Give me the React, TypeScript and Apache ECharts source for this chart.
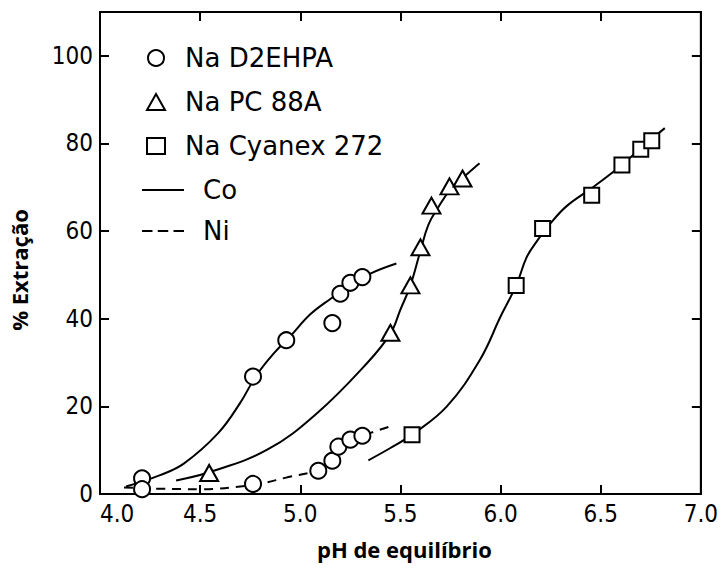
import React, { useEffect, useRef } from "react";
import * as echarts from "echarts";

// Points (pH, % extraction)
const d2ehpaCo = [[4.21, 3.6], [4.764, 26.8], [4.93, 35.1], [5.16, 39.0], [5.2, 45.7], [5.25, 48.2], [5.31, 49.5]];
const d2ehpaNi = [[4.21, 1.1], [4.764, 2.3], [5.09, 5.3], [5.16, 7.6], [5.19, 10.8], [5.25, 12.4], [5.31, 13.3]];
const pc88aCo = [[4.545, 4.8], [5.45, 36.8], [5.55, 47.6], [5.6, 56.3], [5.655, 65.8], [5.745, 70.2], [5.81, 72.0]];
const cyanexCo = [[5.558, 13.5], [6.078, 47.6], [6.21, 60.6], [6.455, 68.2], [6.606, 75.1], [6.7, 78.7], [6.755, 80.6]];

// Hand-drawn fit curves
const curveD2ehpaCo = [[4.13, 1.7], [4.3, 4.3], [4.42, 7.0], [4.59, 13.9], [4.7, 20.8], [4.78, 27.0], [4.87, 32.2], [4.95, 36.0], [5.05, 41.0], [5.15, 44.5], [5.25, 47.6], [5.35, 50.3], [5.48, 52.6]];
const curveD2ehpaNi = [[4.12, 1.5], [4.3, 1.2], [4.5, 1.1], [4.764, 2.1], [4.935, 3.8], [5.09, 5.5], [5.16, 7.8], [5.2, 10.5], [5.25, 12.3], [5.31, 13.3], [5.44, 15.3]];
const curvePc88aCo = [[4.38, 3.1], [4.54, 4.9], [4.835, 10.1], [5.085, 18.5], [5.334, 29.9], [5.45, 36.6], [5.5, 42.1], [5.55, 47.6], [5.6, 55.5], [5.64, 61.5], [5.69, 65.5], [5.75, 69.5], [5.82, 72.5], [5.895, 75.5]];
const curveCyanexCo = [[5.34, 7.7], [5.45, 10.5], [5.56, 13.6], [5.732, 20.0], [5.898, 30.7], [6.0, 40.5], [6.078, 47.6], [6.13, 54.0], [6.18, 57.6], [6.25, 61.8], [6.33, 65.7], [6.455, 69.8], [6.606, 75.1], [6.7, 78.9], [6.82, 83.5]];

const xTicks = { min: 4.0, max: 7.0, interval: 0.5 };
const yTicks = { min: 0, max: 110, interval: 20 };

const legendMarkers = ["Na D2EHPA", "Na PC 88A", "Na Cyanex 272"];
const legendLines = ["Co", "Ni"];

const tickFont = "'DejaVu Sans Condensed', 'Liberation Sans Narrow', 'DejaVu Sans', sans-serif";
const legendFont = "'DejaVu Sans', sans-serif";
const titleFont = "'Open Sans', 'DejaVu Sans', sans-serif";

const solidIcon = "path://M0,0h40v2h-40z";
const dashIcon = "path://M0,0h10v2h-10z M15,0h10v2h-10z M30,0h10v2h-10z";

export default function App() {
  const ref = useRef<HTMLDivElement>(null);
  useEffect(() => {
    if (!ref.current) return;
    const chart = echarts.init(ref.current, undefined, { renderer: "svg" });
    const axisLine = { show: true, onZero: false, lineStyle: { color: "#000", width: 2 } };
    const axisTick = { show: true, inside: true, length: 9, lineStyle: { color: "#000", width: 2 } };
    const lineSeries = (data: number[][], dashed: boolean) => ({
      type: "line",
      data,
      smooth: 0.4,
      symbol: "none",
      itemStyle: { color: "#000" },
      lineStyle: { color: "#000", width: 2, type: dashed ? [9, 7] : "solid" },
      z: 2,
      silent: true,
    });
    const markerStyle = { color: "#fff", borderColor: "#000", borderWidth: 2, opacity: 1 };
    const option = {
      animation: false,
      backgroundColor: "#fff",
      grid: { left: 100, right: 20, top: 12, bottom: 78, show: true, borderColor: "#000", borderWidth: 2, backgroundColor: "transparent" },
      xAxis: [
        {
          type: "value",
          ...xTicks,
          position: "bottom",
          axisLine,
          axisTick,
          splitLine: { show: false },
          axisLabel: {
            color: "#000",
            fontSize: 24,
            fontFamily: tickFont,
            margin: 8,
            alignMinLabel: "left",
            formatter: (v: number) => v.toFixed(1),
          },
          name: "pH de equilíbrio",
          nameLocation: "middle",
          nameGap: 44,
          nameTextStyle: { color: "#000", fontSize: 22, fontWeight: "bold", fontFamily: titleFont, padding: [0, 0, 0, 8] },
        },
        {
          type: "value",
          ...xTicks,
          position: "top",
          axisLine,
          axisTick,
          splitLine: { show: false },
          axisLabel: { show: false },
        },
      ],
      yAxis: [
        {
          type: "value",
          ...yTicks,
          position: "left",
          axisLine,
          axisTick,
          splitLine: { show: false },
          axisLabel: {
            color: "#000",
            fontSize: 24,
            fontFamily: tickFont,
            margin: 7,
            formatter: (v: number) => (v > 100 ? "" : String(v)),
          },
          name: "% Extração",
          nameLocation: "middle",
          nameGap: 70,
          nameTextStyle: { color: "#000", fontSize: 22, fontWeight: "bold", fontFamily: titleFont, padding: [0, 34, 0, 0] },
        },
        {
          type: "value",
          ...yTicks,
          position: "right",
          axisLine,
          axisTick,
          splitLine: { show: false },
          axisLabel: { show: false },
        },
      ],
      legend: [
        {
          orient: "vertical",
          left: 141,
          top: 40,
          itemWidth: 18,
          itemHeight: 16,
          itemGap: 18,
          data: legendMarkers,
          selectedMode: false,
          textStyle: { color: "#000", fontSize: 26, fontFamily: legendFont, padding: [0, 0, 0, 15] },
        },
        {
          orient: "vertical",
          left: 137,
          top: 172,
          itemWidth: 42,
          itemHeight: 16,
          itemGap: 15,
          data: [
            { name: legendLines[0], icon: solidIcon, itemStyle: { color: "#000" } },
            { name: legendLines[1], icon: dashIcon, itemStyle: { color: "#000" } },
          ],
          selectedMode: false,
          textStyle: { color: "#000", fontSize: 26, fontFamily: legendFont, padding: [0, 0, 0, 14] },
        },
      ],
      series: [
        { ...lineSeries(curveD2ehpaCo, false), name: "Co" },
        { ...lineSeries(curvePc88aCo, false), name: "Co" },
        { ...lineSeries(curveCyanexCo, false), name: "Co" },
        { ...lineSeries(curveD2ehpaNi, true), name: "Ni" },
        {
          type: "scatter",
          name: "Na D2EHPA",
          data: [...d2ehpaCo, ...d2ehpaNi],
          symbol: "circle",
          symbolSize: 16,
          itemStyle: markerStyle,
          z: 5,
        },
        {
          type: "scatter",
          name: "Na PC 88A",
          data: pc88aCo,
          symbol: "triangle",
          symbolSize: [18, 16],
          itemStyle: markerStyle,
          z: 5,
        },
        {
          type: "scatter",
          name: "Na Cyanex 272",
          data: cyanexCo,
          symbol: "rect",
          symbolSize: 15,
          itemStyle: markerStyle,
          z: 5,
        },
      ],
    };
    chart.setOption(option as any);
    return () => chart.dispose();
  }, []);
  return <div ref={ref} style={{ width: 721, height: 572, position: "absolute", left: 0, top: 0 }} />;
}
